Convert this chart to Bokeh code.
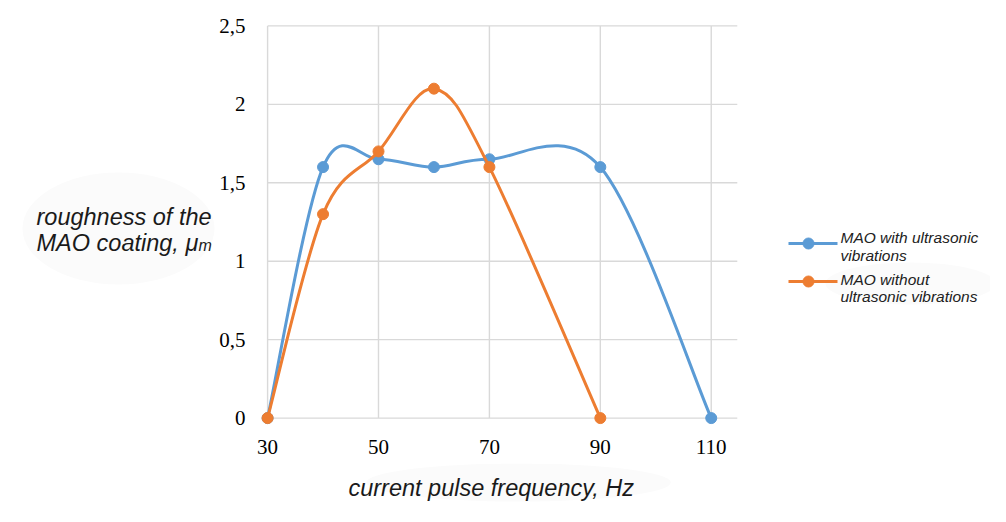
from bokeh.plotting import figure
from bokeh.models import Range1d, FixedTicker
from bokeh.layouts import row, column
from bokeh.embed import file_html
from bokeh.resources import INLINE
from bokeh.core.properties import value

# ---------------- data ----------------
freq_with = [30, 40, 50, 60, 70, 90, 110]
rough_with = [0, 1.6, 1.65, 1.6, 1.65, 1.6, 0]
freq_without = [30, 40, 50, 60, 70, 90]
rough_without = [0, 1.3, 1.7, 2.1, 1.6, 0]
x_ticks = [30, 50, 70, 90, 110]
y_ticks = [0, 0.5, 1, 1.5, 2, 2.5]
y_tick_labels = ["0", "0,5", "1", "1,5", "2", "2,5"]
name_with = ["MAO with ultrasonic", "vibrations"]
name_without = ["MAO without", "ultrasonic vibrations"]
x_title = "current pulse frequency, Hz"
y_title = ["roughness of the", "MAO coating, μ", "m"]

BLUE = "#5B9BD5"
ORANGE = "#ED7D31"
GRID = "#D9D9D9"
BLOB = "#FBFBFB"
X_GRID_END = 114.7

# page geometry (pixels)
TOTAL_W, TOTAL_H = 990, 506
LEFT_W = 215            # y-title panel
LEG_X = 768             # legend panel starts here
MAIN_W = LEG_X - LEFT_W
FL, FT, FW, FH, FB = 256 - LEFT_W, 16, 488, 411, 36
MAIN_H = FT + FH + FB
XR = (28, 116)
YR = (-0.06, 2.56)


def smooth(xs, ys, t=1.0 / 6.0):
    """Bezier segments (Catmull-Rom style, like a spreadsheet smoothed line)."""
    n = len(xs)
    d = dict(x0=[], y0=[], x1=[], y1=[], cx0=[], cy0=[], cx1=[], cy1=[])
    for i in range(n - 1):
        a = max(i - 1, 0)
        b = min(i + 2, n - 1)
        d["x0"].append(xs[i]); d["y0"].append(ys[i])
        d["x1"].append(xs[i + 1]); d["y1"].append(ys[i + 1])
        d["cx0"].append(xs[i] + (xs[i + 1] - xs[a]) * t)
        d["cy0"].append(ys[i] + (ys[i + 1] - ys[a]) * t)
        d["cx1"].append(xs[i + 1] - (xs[b] - xs[i]) * t)
        d["cy1"].append(ys[i + 1] - (ys[b] - ys[i]) * t)
    return d


def panel(w, h):
    f = figure(width=w, height=h, x_range=Range1d(0, w), y_range=Range1d(h, 0),
               x_axis_type=None, y_axis_type=None, min_border=0,
               output_backend="svg", toolbar_location=None)
    f.outline_line_color = None
    f.grid.visible = False
    return f


# ---------------- main plot ----------------
p = figure(frame_width=FW, frame_height=FH,
           x_range=Range1d(*XR), y_range=Range1d(*YR),
           min_border_left=FL, min_border_right=MAIN_W - FL - FW, min_border_top=FT,
           min_border_bottom=FB,
           output_backend="svg", toolbar_location=None)
p.outline_line_color = None
p.xgrid.visible = False
p.ygrid.visible = False

p.segment(x0=[30] * len(y_ticks), x1=[X_GRID_END] * len(y_ticks), y0=y_ticks, y1=y_ticks,
          line_color=GRID, line_width=1.4)
p.segment(x0=x_ticks, x1=x_ticks, y0=[0] * len(x_ticks), y1=[2.5] * len(x_ticks),
          line_color=GRID, line_width=1.4)

for xs, ys, col in [(freq_with, rough_with, BLUE), (freq_without, rough_without, ORANGE)]:
    s = smooth(xs, ys)
    p.bezier(x0=s["x0"], y0=s["y0"], x1=s["x1"], y1=s["y1"],
             cx0=s["cx0"], cy0=s["cy0"], cx1=s["cx1"], cy1=s["cy1"],
             line_color=col, line_width=3)
    p.scatter(xs, ys, size=11, fill_color=col, line_color=col)

for ax, ticks in [(p.xaxis, x_ticks), (p.yaxis, y_ticks)]:
    ax.ticker = FixedTicker(ticks=ticks)
    ax.axis_line_color = None
    ax.major_tick_line_color = None
    ax.minor_tick_line_color = None
    ax.major_tick_out = 0
    ax.major_tick_in = 0
    ax.major_label_text_font = "Liberation Serif"
    ax.major_label_text_font_size = "21px"
    ax.major_label_text_color = "#000000"
p.xaxis.major_label_standoff = 12
p.yaxis.major_label_standoff = 11
p.yaxis.major_label_overrides = {t: l for t, l in zip(y_ticks, y_tick_labels)}

title_font = dict(text_font=value("Liberation Sans"), text_font_style="italic",
                  text_color="#1A1A1A", text_baseline="middle")

# ---------------- y-title panel ----------------
yt = panel(LEFT_W, TOTAL_H)
yt.ellipse(x=[118], y=[228], width=[192], height=[112], fill_color=BLOB, line_color=None)
yt.text(x=[36, 36], y=[216, 242], text=y_title[:2], text_font_size="23.5px", **title_font)
yt.text(x=[36 + 162], y=[244.5], text=[y_title[2]], text_font_size="16px", **title_font)

# ---------------- x-title panel ----------------
xt = panel(MAIN_W, TOTAL_H - MAIN_H)
xt.ellipse(x=[512 - LEFT_W], y=[482 - MAIN_H], width=[345], height=[38],
           fill_color=BLOB, line_color=None)
xt.text(x=[481 - LEFT_W], y=[487 - MAIN_H], text=[x_title], text_font_size="23.5px",
        text_align="center", **title_font)

# ---------------- legend panel ----------------
lg = panel(TOTAL_W - LEG_X, TOTAL_H)
lg.ellipse(x=[142], y=[283], width=[170], height=[42], fill_color=BLOB, line_color=None)
leg_rows = [(243, BLUE, name_with, [237, 255]), (281, ORANGE, name_without, [279, 296])]
for ly, col, names, mids in leg_rows:
    lg.line([20, 69], [ly, ly], line_color=col, line_width=3)
    lg.scatter([40], [ly], size=11, fill_color=col, line_color=col)
    lg.text(x=[72, 72], y=mids, text=names, text_font=value("Liberation Sans"),
            text_font_style="italic", text_font_size="15.5px", text_color="#222222",
            text_baseline="middle")

layout = row(yt, column(p, xt), lg)
open("out.html", "w").write(file_html(layout, INLINE))
